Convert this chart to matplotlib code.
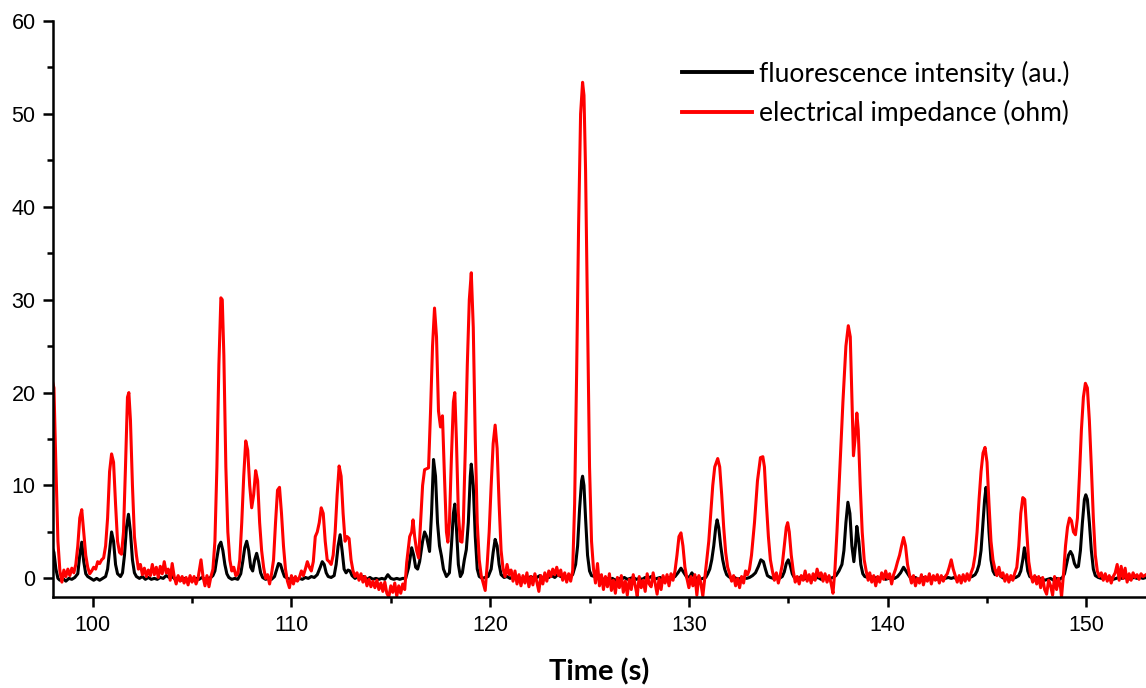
import numpy as np
import matplotlib.pyplot as plt

# fluorescence intensity (black)
fluor_t = [98.0, 98.05, 98.15, 98.25, 98.35, 98.5, 98.65, 98.8, 98.95, 99.1, 99.25, 99.35, 99.45, 99.55, 99.65, 99.75, 99.9,
           100.05, 100.2, 100.35, 100.5, 100.65, 100.75, 100.85, 100.95, 101.05, 101.15, 101.25, 101.4, 101.5, 101.6, 101.7,
           101.8, 101.9, 102.0, 102.1, 102.2, 102.35, 102.5, 102.65, 102.8, 102.95, 103.1, 103.25, 103.4, 103.55, 103.7,
           103.85, 104.0, 104.15, 104.3, 104.45, 104.6, 104.75, 104.9, 105.05, 105.2, 105.35, 105.5, 105.65, 105.8, 105.95,
           106.05, 106.15, 106.25, 106.35, 106.45, 106.55, 106.65, 106.75, 106.85, 107.0, 107.15, 107.3, 107.45, 107.55,
           107.65, 107.75, 107.85, 107.95, 108.05, 108.15, 108.25, 108.35, 108.45, 108.55, 108.7, 108.85, 109.0, 109.15,
           109.25, 109.35, 109.45, 109.55, 109.65, 109.8, 109.95, 110.1, 110.25, 110.4, 110.55, 110.7, 110.85, 111.0, 111.15,
           111.3, 111.45, 111.55, 111.65, 111.75, 111.85, 112.0, 112.15, 112.25, 112.35, 112.45, 112.55, 112.65, 112.75,
           112.85, 112.95, 113.05, 113.2, 113.35, 113.5, 113.65, 113.8, 113.95, 114.1, 114.25, 114.4, 114.55, 114.7, 114.85,
           115.0, 115.15, 115.3, 115.45, 115.6, 115.75, 115.9, 116.05, 116.15, 116.25, 116.35, 116.45, 116.6, 116.7, 116.8,
           116.95, 117.05, 117.15, 117.25, 117.35, 117.45, 117.55, 117.65, 117.8, 117.95, 118.05, 118.15, 118.22, 118.3,
           118.4, 118.5, 118.6, 118.7, 118.8, 118.9, 119.0, 119.05, 119.15, 119.25, 119.35, 119.45, 119.6, 119.75, 119.9,
           120.05, 120.15, 120.25, 120.35, 120.45, 120.55, 120.7, 120.85, 121.0, 121.15, 121.3, 121.45, 121.6, 121.75, 121.9,
           122.05, 122.2, 122.35, 122.5, 122.65, 122.8, 122.95, 123.1, 123.25, 123.4, 123.55, 123.7, 123.85, 124.0, 124.15,
           124.3, 124.4, 124.5, 124.6, 124.65, 124.72, 124.8, 124.9, 125.0, 125.1, 125.25, 125.4, 125.55, 125.7, 125.85,
           126.0, 126.15, 126.3, 126.45, 126.6, 126.75, 126.9, 127.05, 127.2, 127.35, 127.5, 127.65, 127.8, 127.95, 128.1,
           128.25, 128.4, 128.55, 128.7, 128.85, 129.0, 129.15, 129.3, 129.45, 129.6, 129.75, 129.9, 130.05, 130.15, 130.25,
           130.4, 130.55, 130.7, 130.85, 130.95, 131.05, 131.15, 131.25, 131.35, 131.42, 131.5, 131.6, 131.7, 131.8, 131.9,
           132.0, 132.15, 132.3, 132.45, 132.6, 132.75, 132.9, 133.05, 133.2, 133.35, 133.5, 133.62, 133.75, 133.85, 133.95,
           134.1, 134.25, 134.4, 134.55, 134.7, 134.8, 134.9, 135.0, 135.1, 135.2, 135.3, 135.45, 135.6, 135.75, 135.9,
           136.05, 136.2, 136.35, 136.5, 136.65, 136.8, 136.95, 137.1, 137.25, 137.4, 137.55, 137.7, 137.8, 137.9, 138.0,
           138.1, 138.2, 138.3, 138.38, 138.45, 138.55, 138.65, 138.75, 138.85, 139.0, 139.15, 139.3, 139.45, 139.6, 139.75,
           139.9, 140.05, 140.2, 140.35, 140.5, 140.65, 140.8, 140.95, 141.1, 141.25, 141.4, 141.55, 141.7, 141.85, 142.0,
           142.15, 142.3, 142.45, 142.6, 142.75, 142.9, 143.05, 143.2, 143.35, 143.5, 143.65, 143.8, 143.95, 144.1, 144.25,
           144.4, 144.5, 144.6, 144.7, 144.8, 144.88, 144.95, 145.02, 145.1, 145.2, 145.3, 145.4, 145.5, 145.6, 145.7, 145.85,
           146.0, 146.15, 146.3, 146.45, 146.6, 146.7, 146.8, 146.88, 146.95, 147.05, 147.15, 147.3, 147.45, 147.6, 147.75,
           147.9, 148.05, 148.2, 148.35, 148.5, 148.65, 148.8, 148.9, 149.0, 149.1, 149.2, 149.3, 149.4, 149.5, 149.6, 149.7,
           149.8, 149.9, 149.97, 150.05, 150.15, 150.25, 150.35, 150.45, 150.6, 150.75, 150.9, 151.05, 151.2, 151.35, 151.5,
           151.65, 151.8, 151.95, 152.1, 152.25, 152.4, 152.55, 152.7, 152.85, 153.0]
fluor_v = [3.1, 2.8, 1.0, 0.0, -0.2, 0.0, -0.3, 0.0, -0.1, 0.1, 0.5, 2.5, 3.9, 1.8, 0.5, 0.2, 0.0,
           -0.2, 0.0, -0.2, 0.0, 0.2, 1.0, 3.0, 5.0, 4.0, 1.5, 0.5, 0.2, 0.6, 2.5, 5.5,
           6.9, 5.0, 2.0, 0.6, 0.2, 0.0, 0.2, -0.1, 0.1, -0.1, 0.0, -0.1, 0.1, 0.0, 0.3,
           0.1, 0.2, -0.1, 0.1, -0.2, 0.0, -0.2, 0.0, -0.2, 0.0, -0.1, 0.1, -0.1, 0.0, 0.1,
           0.3, 0.8, 2.2, 3.5, 3.9, 3.0, 1.5, 0.5, 0.1, -0.1, 0.0, -0.1, 0.5, 1.8,
           3.3, 4.0, 3.0, 1.2, 0.8, 2.0, 2.7, 1.8, 0.6, 0.1, -0.1, 0.0, -0.1, 0.2,
           0.9, 1.6, 1.5, 0.8, 0.2, 0.0, -0.1, 0.0, -0.2, 0.0, -0.1, 0.1, 0.0, 0.2, 0.1,
           0.4, 1.2, 1.8, 1.5, 0.6, 0.2, 0.1, 0.3, 1.5, 3.5, 4.7, 3.0, 1.0, 0.6,
           0.9, 0.8, 0.3, 0.0, 0.2, 0.0, 0.2, -0.1, 0.1, -0.1, 0.0, -0.1, 0.0, -0.1, 0.4,
           0.0, -0.1, 0.0, -0.1, 0.0, 0.0, 1.2, 3.3, 2.5, 1.2, 1.0, 1.8, 4.0, 5.0, 4.5,
           2.9, 7.0, 12.8, 11.0, 6.0, 3.5, 2.4, 1.0, 0.2, 0.6, 3.5, 7.0, 8.0, 5.5,
           1.5, 0.2, 0.6, 2.0, 3.1, 6.0, 11.0, 12.3, 10.0, 4.5, 1.0, 0.2, 0.0, 0.1, 0.2,
           1.0, 2.8, 4.2, 3.5, 1.5, 0.4, 0.1, 0.2, 0.0, 0.2, 0.0, 0.1, -0.1, 0.1, 0.0,
           0.2, 0.0, 0.1, 0.3, 0.0, 0.2, 0.1, 0.3, 0.1, 0.4, 0.2, 0.3, 0.1, 0.2, 0.4,
           1.5, 3.5, 7.5, 10.5, 11.0, 10.0, 6.5, 2.5, 0.8, 0.3, 0.2, 0.0, 0.1, -0.1, 0.0,
           -0.1, 0.0, -0.2, 0.0, -0.1, 0.1, -0.1, 0.0, 0.1, -0.1, 0.0, -0.1, 0.1, 0.0, 0.2,
           -0.1, 0.0, 0.1, -0.1, 0.0, 0.1, 0.0, 0.2, 0.6, 1.1, 0.6, 0.1, 0.2, 0.6, 0.2,
           0.0, -0.1, 0.0, 0.1, 0.5, 1.0, 2.0, 3.5, 5.5, 6.3, 5.5, 3.5, 2.0, 1.0, 0.4,
           0.2, 0.0, 0.1, -0.1, 0.0, 0.1, 0.0, 0.1, 0.3, 0.6, 1.3, 2.0, 1.8, 1.0, 0.3,
           0.1, 0.0, 0.1, 0.0, 0.2, 0.7, 1.6, 2.0, 1.4, 0.5, 0.1, 0.0, 0.1, -0.1, 0.0,
           0.1, -0.1, 0.0, 0.1, -0.1, 0.0, 0.1, 0.0, 0.1, 0.3, 0.8, 1.5, 3.0, 6.0, 8.2,
           7.0, 3.5, 1.8, 3.5, 5.6, 4.0, 1.5, 0.5, 0.2, 0.1, 0.2, 0.0, 0.1, 0.0, 0.1,
           -0.1, 0.0, 0.1, 0.0, 0.2, 0.6, 1.2, 0.7, 0.2, 0.0, 0.1, -0.1, 0.0, 0.1, -0.1,
           0.0, 0.1, -0.1, 0.0, 0.1, 0.0, 0.1, 0.0, 0.1, -0.1, 0.0, 0.1, 0.0, 0.1, 0.2,
           0.4, 0.8, 1.5, 3.0, 6.0, 8.5, 9.8, 8.5, 5.0, 2.0, 0.8, 0.4, 0.8, 0.6, 0.2, 0.0,
           0.1, -0.1, 0.0, 0.1, 0.3, 0.8, 2.0, 3.3, 2.5, 0.8, 0.2, 0.0, 0.1, -0.1, 0.0,
           -0.2, -0.1, 0.0, -0.2, 0.0, -0.1, 0.1, 0.5, 1.5, 2.5, 2.9, 2.5, 1.6, 1.2, 1.3, 3.0,
           6.0, 8.5, 9.0, 8.5, 6.0, 3.0, 1.0, 0.3, 0.1, 0.0, 0.1, 0.0, 0.1, -0.1, 0.0,
           0.1, 0.0, 0.1, -0.1, 0.0, 0.1, 0.0, 0.1, 0.0, 0.1]

# electrical impedance (red)
imp_t = [98.0, 98.05, 98.15, 98.25, 98.35, 98.45, 98.55, 98.65, 98.75, 98.85, 98.95, 99.05, 99.15, 99.25, 99.35, 99.45,
         99.55, 99.65, 99.75, 99.85, 99.95, 100.05, 100.15, 100.25, 100.35, 100.45, 100.55, 100.65, 100.75, 100.85, 100.95,
         101.05, 101.15, 101.25, 101.35, 101.45, 101.55, 101.65, 101.75, 101.82, 101.9, 102.0, 102.1, 102.2, 102.3, 102.4,
         102.5, 102.6, 102.7, 102.8, 102.9, 103.0, 103.1, 103.2, 103.3, 103.4, 103.5, 103.6, 103.7, 103.8, 103.9, 104.0,
         104.1, 104.2, 104.3, 104.4, 104.5, 104.6, 104.7, 104.8, 104.9, 105.0, 105.1, 105.2, 105.3, 105.45, 105.55, 105.65,
         105.75, 105.85, 105.95, 106.05, 106.15, 106.25, 106.35, 106.45, 106.52, 106.6, 106.7, 106.8, 106.9, 107.0, 107.1,
         107.2, 107.3, 107.4, 107.5, 107.6, 107.7, 107.8, 107.9, 108.0, 108.1, 108.2, 108.3, 108.4, 108.5, 108.6, 108.7,
         108.8, 108.9, 109.0, 109.1, 109.2, 109.3, 109.4, 109.5, 109.6, 109.7, 109.8, 109.9, 110.0, 110.1, 110.2, 110.3,
         110.4, 110.5, 110.6, 110.7, 110.8, 110.9, 111.0, 111.1, 111.2, 111.3, 111.4, 111.5, 111.6, 111.7, 111.8, 111.9,
         112.0, 112.1, 112.2, 112.3, 112.4, 112.5, 112.6, 112.7, 112.8, 112.9, 113.0, 113.1, 113.2, 113.3, 113.4, 113.5,
         113.6, 113.7, 113.8, 113.9, 114.0, 114.1, 114.2, 114.3, 114.4, 114.5, 114.6, 114.7, 114.8, 114.9, 115.0, 115.1,
         115.2, 115.3, 115.4, 115.5, 115.6, 115.7, 115.8, 115.95, 116.05, 116.12, 116.2, 116.3, 116.4, 116.5, 116.6, 116.7,
         116.9, 117.0, 117.1, 117.2, 117.3, 117.4, 117.5, 117.6, 117.7, 117.8, 117.87, 117.95, 118.05, 118.15, 118.22,
         118.3, 118.4, 118.5, 118.58, 118.65, 118.75, 118.85, 118.95, 119.05, 119.15, 119.25, 119.35, 119.45, 119.55,
         119.65, 119.75, 119.85, 119.95, 120.05, 120.15, 120.25, 120.35, 120.45, 120.55, 120.65, 120.75, 120.85, 120.95,
         121.05, 121.15, 121.25, 121.35, 121.45, 121.55, 121.65, 121.75, 121.85, 121.95, 122.05, 122.15, 122.25, 122.35,
         122.45, 122.55, 122.65, 122.75, 122.85, 122.95, 123.05, 123.15, 123.25, 123.35, 123.45, 123.55, 123.65, 123.75,
         123.85, 123.95, 124.05, 124.15, 124.25, 124.35, 124.45, 124.55, 124.65, 124.72, 124.8, 124.9, 125.0, 125.1, 125.2,
         125.3, 125.4, 125.5, 125.6, 125.7, 125.8, 125.9, 126.0, 126.1, 126.2, 126.3, 126.4, 126.5, 126.6, 126.7, 126.8,
         126.9, 127.0, 127.1, 127.2, 127.3, 127.4, 127.5, 127.6, 127.7, 127.8, 127.9, 128.0, 128.1, 128.2, 128.3, 128.4,
         128.5, 128.6, 128.7, 128.8, 128.9, 129.0, 129.1, 129.2, 129.3, 129.4, 129.5, 129.6, 129.7, 129.8, 129.9, 130.0,
         130.1, 130.2, 130.3, 130.4, 130.5, 130.6, 130.7, 130.8, 130.9, 131.0, 131.1, 131.2, 131.3, 131.45, 131.55, 131.65,
         131.75, 131.85, 131.95, 132.05, 132.15, 132.25, 132.35, 132.45, 132.55, 132.65, 132.75, 132.85, 132.95, 133.05,
         133.15, 133.3, 133.45, 133.6, 133.72, 133.8, 133.9, 134.0, 134.1, 134.2, 134.3, 134.4, 134.5, 134.6, 134.7, 134.8,
         134.9, 134.97, 135.05, 135.15, 135.25, 135.35, 135.45, 135.55, 135.65, 135.75, 135.85, 135.95, 136.05, 136.15,
         136.25, 136.35, 136.45, 136.55, 136.65, 136.75, 136.85, 136.95, 137.05, 137.15, 137.25, 137.35, 137.45, 137.6,
         137.75, 137.9, 138.02, 138.12, 138.22, 138.28, 138.36, 138.45, 138.52, 138.62, 138.72, 138.82, 138.92, 139.02,
         139.1, 139.2, 139.3, 139.4, 139.5, 139.6, 139.7, 139.8, 139.9, 140.0, 140.1, 140.2, 140.3, 140.4, 140.5, 140.6,
         140.7, 140.8, 140.9, 141.0, 141.1, 141.2, 141.3, 141.4, 141.5, 141.6, 141.7, 141.8, 141.9, 142.0, 142.1, 142.2,
         142.3, 142.4, 142.5, 142.6, 142.7, 142.8, 142.9, 143.0, 143.1, 143.2, 143.3, 143.4, 143.5, 143.6, 143.7, 143.8,
         143.9, 144.0, 144.1, 144.2, 144.3, 144.4, 144.5, 144.6, 144.7, 144.8, 144.9, 145.0, 145.1, 145.2, 145.3, 145.4,
         145.5, 145.6, 145.7, 145.8, 145.9, 146.0, 146.1, 146.2, 146.3, 146.4, 146.5, 146.6, 146.7, 146.8, 146.9, 147.0,
         147.1, 147.2, 147.3, 147.4, 147.5, 147.6, 147.7, 147.8, 147.9, 148.0, 148.1, 148.2, 148.3, 148.4, 148.5, 148.6,
         148.7, 148.75, 148.85, 148.95, 149.05, 149.15, 149.25, 149.35, 149.45, 149.55, 149.65, 149.75, 149.85, 149.95,
         150.05, 150.15, 150.25, 150.35, 150.45, 150.55, 150.65, 150.75, 150.85, 150.95, 151.05, 151.15, 151.25, 151.35,
         151.45, 151.55, 151.65, 151.75, 151.85, 151.95, 152.05, 152.15, 152.25, 152.35, 152.45, 152.55, 152.65, 152.75,
         152.85, 153.0]
imp_v = [21.0, 20.5, 12.0, 4.0, 0.8, -0.4, 0.9, 0.2, 1.0, 0.3, 1.1, 0.6, 1.5, 3.5, 6.5, 7.4,
         5.0, 2.5, 1.2, 0.5, 0.8, 1.2, 1.0, 1.8, 1.6, 2.0, 2.2, 3.5, 6.5, 11.5, 13.4,
         12.5, 8.0, 4.0, 2.8, 2.6, 5.0, 12.0, 19.5, 20.0, 17.0, 10.0, 4.5, 2.5, 1.0, 1.5,
         0.4, 1.1, 0.2, 0.9, 0.3, 1.5, 0.4, 1.2, 0.1, 1.3, 0.5, 1.8, 0.6, 1.0, -0.2, 1.6,
         0.2, -0.6, 0.3, -0.3, 0.2, -0.5, 0.1, -0.7, 0.3, -0.4, 0.2, -0.6, 0.0, 2.0, 0.2, -0.8,
         0.3, -0.9, 0.2, 1.0, 4.0, 12.0, 23.0, 30.2, 30.0, 24.0, 12.0, 5.0, 2.0, 0.8, 1.2,
         0.3, 0.5, 2.0, 6.0, 11.0, 14.8, 13.8, 10.0, 7.6, 9.0, 11.6, 10.5, 6.0, 3.0, 1.2, 0.0,
         0.4, -0.6, 0.5, 2.0, 6.0, 9.5, 9.8, 7.0, 3.5, 1.0, -0.3, -1.0, 0.3, -0.6, 0.2, -0.3,
         0.1, 0.8, 0.3, 1.0, 1.8, 1.2, 0.8, 1.8, 4.5, 5.0, 6.0, 7.6, 7.0, 4.0, 2.0, 1.8,
         1.5, 2.5, 5.0, 9.0, 12.1, 11.0, 7.0, 4.0, 4.5, 4.3, 2.0, 0.8, 0.2, 0.6, -0.2, 0.5,
         -0.4, 0.2, -0.8, -0.1, -0.9, -0.3, -1.0, -0.2, -1.2, -0.5, -1.4, -0.4, -1.6, -2.0, -0.8, -1.5,
         -0.5, -1.9, -0.8, -1.6, -0.6, -1.2, 1.7, 4.5, 5.0, 6.3, 4.5, 3.0, 2.2, 6.0, 10.0, 11.7,
         11.9, 18.0, 25.0, 29.1, 26.0, 18.0, 16.3, 17.5, 11.0, 5.0, 3.9, 6.0, 13.0, 19.0, 20.0,
         15.0, 7.0, 4.0, 3.9, 6.0, 14.0, 23.0, 30.0, 32.9, 27.0, 15.0, 6.0, 2.0, 0.3,
         -0.5, -1.3, 1.5, 5.0, 10.0, 14.5, 16.5, 14.0, 8.0, 3.0, 1.0, 0.2, 1.5, 0.4,
         0.9, -0.3, 0.8, -0.6, 0.4, -0.8, 0.3, -0.5, 0.6, -0.9, 0.2, -0.7, 0.5, -0.4,
         -1.4, 0.3, -0.6, 0.6, -0.3, 0.8, 0.2, 1.0, 0.4, 1.2, 0.3, 0.9, -0.2, 0.6,
         -0.4, 0.5, -0.3, 0.8, 8.0, 22.0, 38.0, 50.0, 53.4, 52.0, 44.0, 28.0, 12.0, 4.0, 1.0,
         -0.5, 1.6, -0.8, 0.4, -1.2, 0.2, -0.9, 0.5, -1.3, -0.2, -1.6, 0.1, -1.0, 0.3, -1.5, -0.3,
         -1.8, -0.1, -1.2, 0.4, -0.8, -1.9, 0.2, -1.0, -0.2, -1.4, 0.5, -0.6, -0.9, 0.6, -0.5, -1.7,
         0.0, -1.2, 0.3, -0.5, 0.4, -0.8, 0.5, -0.2, 0.8, 2.5, 4.5, 4.9, 3.5, 1.2, 0.0, -1.0,
         0.2, -0.8, 0.4, -1.8, 0.3, -0.5, -1.9, 0.0, 2.0, 4.0, 7.0, 10.0, 12.0, 12.9, 12.0, 9.0,
         5.5, 2.8, 1.2, 0.5, -0.3, 0.3, -0.8, 0.0, -1.0, 0.2, -0.5, 0.8, 0.4, 1.0,
         2.5, 6.0, 10.5, 13.0, 13.1, 12.0, 8.0, 4.5, 2.0, 0.8, -0.2, 0.6, -0.5, 0.4, 1.5, 3.5,
         5.5, 6.0, 5.0, 2.5, 0.8, -0.4, 0.2, -0.6, 0.3, -0.2, 0.8, -0.3, 0.4, -0.5,
         0.5, -0.2, 1.0, 0.2, 0.6, -0.3, 0.5, -0.4, 0.3, -0.5, -1.6, 1.0, 5.0, 12.0,
         19.0, 25.0, 27.2, 26.0, 18.0, 13.2, 15.0, 17.8, 16.0, 10.0, 5.0, 2.0, 0.8, -0.2,
         0.6, -0.4, 0.3, -0.8, 0.2, -0.4, 0.6, -0.1, 0.8, 0.0, 0.5, -0.6, 0.4, 1.0, 1.8, 2.5,
         3.5, 4.4, 3.5, 1.5, 0.4, -0.5, 0.3, -0.8, 0.0, -0.5, 0.4, -0.7, 0.2, -0.3, 0.5, -0.6,
         0.3, -0.2, 0.4, -0.5, 0.3, -0.3, 0.2, 0.5, 1.2, 2.0, 1.0, 0.3, -0.4, 0.3, -0.5, 0.4,
         -0.3, 0.5, -0.2, 0.6, 1.2, 2.5, 5.0, 8.5, 11.5, 13.5, 14.1, 12.5, 8.0, 4.0, 2.0, 1.0,
         0.3, 1.2, 0.2, 0.6, -0.3, 0.4, -0.4, 0.3, -0.2, 0.6, 1.2, 3.5, 7.0, 8.7, 8.5, 5.0,
         1.8, 0.4, -0.4, 0.3, -0.6, 0.2, -1.0, 0.1, -1.2, -1.7, -0.2, -0.8, -1.8, 0.2, -1.2, 0.0,
         -1.0, -2.0, 0.5, 3.5, 5.5, 6.5, 6.2, 5.0, 4.7, 6.5, 11.0, 16.0, 19.5, 21.0,
         20.5, 17.0, 12.0, 6.5, 2.5, 0.8, 0.2, 0.6, -0.2, 0.5, -0.3, 0.3, -0.5, 0.2,
         0.6, 1.5, -0.2, 1.3, 0.0, 1.1, -0.4, 0.5, -0.2, 0.6, 0.1, 0.4, -0.1, 0.5,
         0.2, 0.4]

plt.rcParams['font.family'] = ['Liberation Sans', 'DejaVu Sans']

fig = plt.figure(figsize=(11.46, 6.88), dpi=100)
ax = fig.add_axes([0.0462, 0.1323, 0.9538, 0.8372])

ax.plot(fluor_t, fluor_v, color='black', lw=2.2, label='fluorescence intensity (au.)')
ax.plot(imp_t, imp_v, color='#ff0000', lw=2.2, label='electrical impedance (ohm)')

ax.set_xlim(98, 153)
ax.set_ylim(-2, 60)
ax.set_xticks(np.arange(100, 151, 10))
ax.set_xticks(np.arange(105, 153, 10), minor=True)
ax.set_yticks(np.arange(0, 61, 10))
ax.set_yticks(np.arange(5, 60, 10), minor=True)

for s in ['top', 'right']:
    ax.spines[s].set_visible(False)
for s in ['left', 'bottom']:
    ax.spines[s].set_linewidth(1.8)

ax.tick_params(which='major', direction='out', length=7, width=1.8, labelsize=15.5)
ax.tick_params(axis='y', which='major', pad=5.5)
ax.tick_params(axis='x', which='major', pad=6)
ax.tick_params(which='minor', direction='out', length=4.5, width=1.8)

ax.set_xlabel('Time (s)', family=['Lato', 'DejaVu Sans'], fontweight='bold', fontsize=21, labelpad=16)

leg = ax.legend(loc='upper left', bbox_to_anchor=(0.5951, 0.912), bbox_transform=fig.transFigure,
                frameon=False, prop={'family': ['Lato', 'DejaVu Sans'], 'size': 19},
                handlelength=2.65, handletextpad=0.27, labelspacing=0.5, borderpad=0, borderaxespad=0)
for line in leg.get_lines():
    line.set_linewidth(2.8)

fig.savefig('out.png', dpi=100)
